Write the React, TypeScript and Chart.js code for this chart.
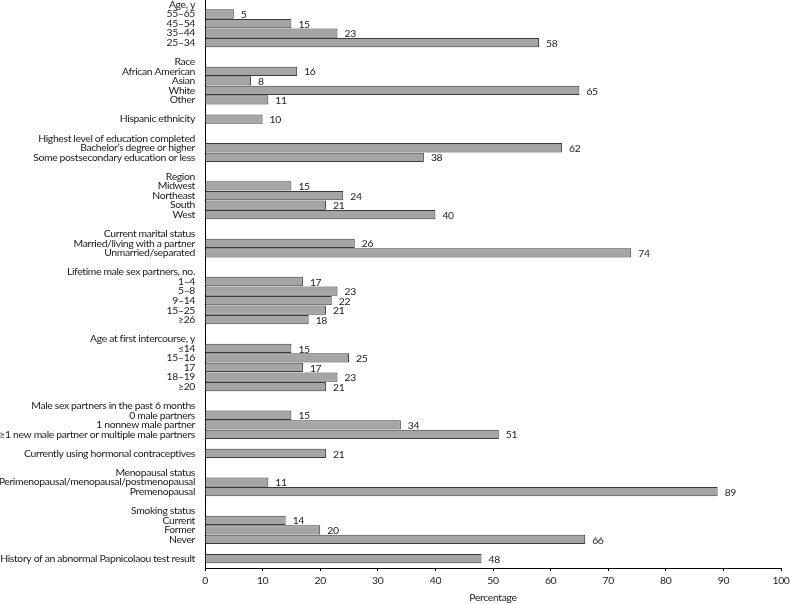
import { useEffect, useRef } from 'react';
import { Chart, registerables } from 'chart.js';

Chart.register(...registerables);

const categories: string[] = [
  'Age, y', '55–65', '45–54', '35–44', '25–34', '',
  'Race', 'African American', 'Asian', 'White', 'Other', '',
  'Hispanic ethnicity', '',
  'Highest level of education completed', 'Bachelor’s degree or higher', 'Some postsecondary education or less', '',
  'Region', 'Midwest', 'Northeast', 'South', 'West', '',
  'Current marital status', 'Married/living with a partner', 'Unmarried/separated', '',
  'Lifetime male sex partners, no.', '1–4', '5–8', '9–14', '15–25', '≥26', '',
  'Age at first intercourse, y', '≤14', '15–16', '17', '18–19', '≥20', '',
  'Male sex partners in the past 6 months', '0 male partners', '1 nonnew male partner', '≥1 new male partner or multiple male partners', '',
  'Currently using hormonal contraceptives', '',
  'Menopausal status', 'Perimenopausal/menopausal/postmenopausal', 'Premenopausal', '',
  'Smoking status', 'Current', 'Former', 'Never', '',
  'History of an abnormal Papnicolaou test result',
];

const percentages: (number | null)[] = [
  null, 5, 15, 23, 58, null,
  null, 16, 8, 65, 11, null,
  10, null,
  null, 62, 38, null,
  null, 15, 24, 21, 40, null,
  null, 26, 74, null,
  null, 17, 23, 22, 21, 18, null,
  null, 15, 25, 17, 23, 21, null,
  null, 15, 34, 51, null,
  21, null,
  null, 11, 89, null,
  null, 14, 20, 66, null,
  48,
];

const xTickValues: number[] = [0, 10, 20, 30, 40, 50, 60, 70, 80, 90, 100];
const xTitle = 'Percentage';

const FONT = 'Lato';
const FSIZE = 10.4;
const TEXT = '#1a1a1a';

const tightText = {
  id: 'tightText',
  beforeDraw(chart: any) {
    chart.ctx.letterSpacing = '-0.35px';
  },
  afterDraw(chart: any) {
    chart.ctx.letterSpacing = '0px';
  },
};

const valueLabels = {
  id: 'valueLabels',
  afterDatasetsDraw(chart: any) {
    const ctx = chart.ctx;
    const meta = chart.getDatasetMeta(0);
    const data = chart.data.datasets[0].data as any[];
    ctx.save();
    ctx.font = `${FSIZE}px ${FONT}`;
    ctx.textBaseline = 'middle';
    ctx.textAlign = 'left';
    meta.data.forEach((el: any, i: number) => {
      const txt = String(data[i].x);
      const w = ctx.measureText(txt).width;
      const x = el.x + 7;
      const y = el.y + 0.8;
      ctx.fillStyle = '#ffffff';
      ctx.fillRect(x - 2, el.y - 4, w + 4, 8.5);
      ctx.fillStyle = TEXT;
      ctx.fillText(txt, x, y);
    });
    ctx.restore();
  },
};

export default function App() {
  const ref = useRef<HTMLCanvasElement | null>(null);

  useEffect(() => {
    if (!ref.current) return;
    const points = percentages
      .map((v, i) => (v == null ? null : { x: v, y: i }))
      .filter((p) => p !== null) as { x: number; y: number }[];

    const chart = new Chart(ref.current, {
      type: 'bar',
      data: {
        datasets: [
          {
            data: points as any,
            backgroundColor: '#a5a5a5',
            borderColor: '#3a3a3a',
            borderWidth: 1,
            barPercentage: 0.97,
            categoryPercentage: 1,
          },
        ],
      },
      options: {
        indexAxis: 'y',
        responsive: false,
        animation: false,
        layout: { padding: 0 },
        plugins: { legend: { display: false }, tooltip: { enabled: false } },
        scales: {
          y: {
            type: 'linear',
            reverse: true,
            offset: false,
            min: -0.466,
            max: 58.99,
            afterBuildTicks: (s: any) => {
              s.ticks = categories.map((_, i) => ({ value: i }));
            },
            afterFit: (s: any) => {
              s.width = 205;
              s.paddingTop = 0;
              s.paddingBottom = 0;
            },
            ticks: {
              autoSkip: false,
              padding: 10,
              color: TEXT,
              font: { family: FONT, size: FSIZE, lineHeight: 1 },
              callback: (v: any) => categories[v as number] ?? '',
            },
            grid: { display: false, drawTicks: false, offset: false },
            border: { display: true, color: '#000', width: 1 },
          },
          x: {
            type: 'linear',
            position: 'bottom',
            min: 0,
            max: 100,
            afterBuildTicks: (s: any) => {
              s.ticks = xTickValues.map((v) => ({ value: v }));
            },
            afterFit: (s: any) => {
              s.height = 36;
              s.paddingRight = 9;
              s.paddingLeft = 0;
            },
            ticks: {
              padding: 3,
              maxRotation: 0,
              color: TEXT,
              font: { family: FONT, size: FSIZE },
            },
            grid: {
              display: true,
              drawOnChartArea: false,
              drawTicks: true,
              tickLength: 3,
              color: '#000',
            },
            border: { display: true, color: '#000', width: 1 },
            title: {
              display: true,
              text: xTitle,
              color: TEXT,
              font: { family: FONT, size: FSIZE },
              padding: { top: 0, bottom: 0 },
            },
          },
        },
      },
      plugins: [tightText, valueLabels],
    });
    return () => chart.destroy();
  }, []);

  return (
    <div style={{ position: 'absolute', left: 0, top: 0, width: 790, height: 604, background: '#fff' }}>
      <canvas ref={ref} width={790} height={604} />
    </div>
  );
}
